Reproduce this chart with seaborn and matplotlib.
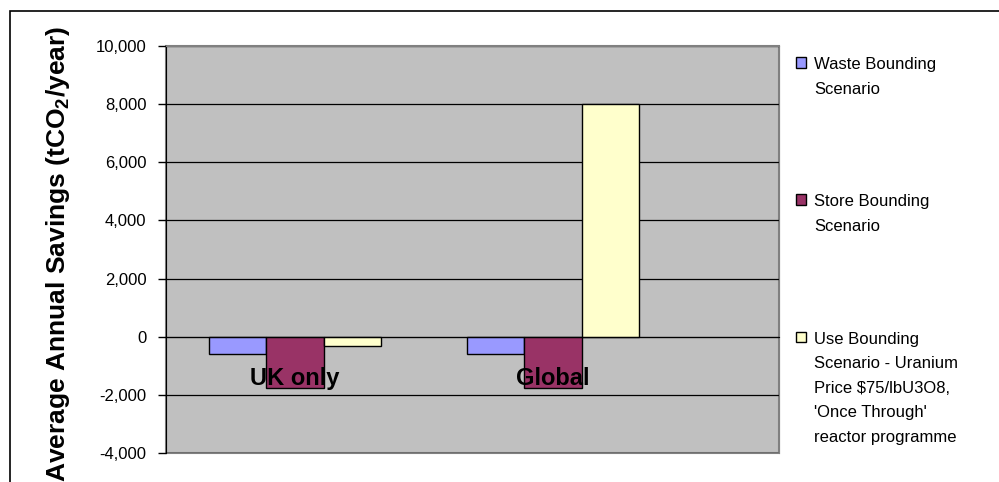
import numpy as np
import pandas as pd
import matplotlib
matplotlib.use('Agg')
import matplotlib.pyplot as plt
import matplotlib.ticker as mticker
from matplotlib.patches import Rectangle
import seaborn as sns

# chart values (tCO2/year)
regions = ['UK only', 'Global']
scenarios = ['Waste Bounding\nScenario',
             'Store Bounding\nScenario',
             "Use Bounding\nScenario - Uranium\nPrice \\$75/lbU3O8,\n'Once Through'\nreactor programme"]
waste = [-600, -600]
store = [-1750, -1750]
use = [-330, 8000]
colors = ['#9999FF', '#993366', '#FFFFCC']

df = pd.DataFrame({
    'Region': regions * 3,
    'Scenario': np.repeat(scenarios, len(regions)),
    'Savings': waste + store + use,
})

sns.set_style('white')
plt.rcParams['font.family'] = ['Liberation Sans', 'DejaVu Sans']
plt.rcParams['mathtext.fontset'] = 'custom'
plt.rcParams['mathtext.rm'] = 'Liberation Sans'
plt.rcParams['mathtext.bf'] = 'Liberation Sans:bold'
for k in ['text.color', 'axes.labelcolor', 'xtick.color', 'ytick.color']:
    plt.rcParams[k] = 'black'

fig = plt.figure(figsize=(9.99, 4.82), dpi=100)
ax = fig.add_axes([0.1662, 0.0602, 0.6136, 0.8444])
ax.set_facecolor('#C0C0C0')

sns.barplot(data=df, x='Region', y='Savings', hue='Scenario', order=regions,
            hue_order=scenarios, palette=colors, saturation=1, width=0.67,
            edgecolor='black', linewidth=1, ax=ax, zorder=3)

ax.set_ylim(-4000, 10000)
ax.set_xlim(-0.5, 1.876)
ax.yaxis.set_major_locator(mticker.MultipleLocator(2000))
ax.yaxis.set_major_formatter(mticker.FuncFormatter(lambda v, p: f'{int(v):,}'))
ax.grid(axis='y', color='black', linewidth=0.9, zorder=1)
ax.set_axisbelow(True)
ax.tick_params(axis='y', direction='out', length=6, width=1, color='black',
               labelsize=12, pad=8, left=True)

# category axis sits on zero, labels drawn inside the plot area over the bars
ax.spines['bottom'].set_position(('data', 0))
ax.spines['bottom'].set_color('black')
ax.spines['bottom'].set_zorder(4)
ax.xaxis.set_zorder(5)
ax.set_xticks([0.5], minor=True)
ax.tick_params(axis='x', which='minor', direction='out', length=6, width=1, color='black')
ax.tick_params(axis='x', which='major', length=0, pad=22)
for lab in ax.get_xticklabels():
    lab.set_fontfamily(['Liberation Sans Narrow', 'Liberation Sans'])
    lab.set_fontweight('bold')
    lab.set_fontsize(17)
    lab.set_color('black')
ax.set_xlabel('')

ax.spines['left'].set_color('black')
ax.spines['top'].set_color('#808080')
ax.spines['right'].set_color('#808080')
ax.patch.set_edgecolor('#808080')
ax.patch.set_linewidth(1.5)

ax.set_ylabel(r'Average Annual Savings (tCO$_\mathbf{2}$/year)', fontsize=19,
              fontweight='bold')
ax.yaxis.set_label_coords(-0.153, 0.49)

leg = ax.legend(loc='upper left', bbox_to_anchor=(0.788, 0.899),
                bbox_transform=fig.transFigure, frameon=False, fontsize=12,
                handlelength=0.6, handleheight=0.6, handletextpad=0.5,
                labelspacing=5.86, borderpad=0)
for col in leg._legend_handle_box.get_children():
    col.align = 'left'
    for row in col.get_children():
        row.align = 'top'
for t in leg.get_texts():
    t.set_linespacing(1.8)
for h in leg.legend_handles:
    h.set_edgecolor('black')
    h.set_linewidth(1)

fig.patches.append(Rectangle((0.010, -0.2), 1.2, 0.2 + (482 - 11) / 482,
                             transform=fig.transFigure, fill=False,
                             edgecolor='black', linewidth=1.2))

fig.savefig('out.png', dpi=100, facecolor='white')
